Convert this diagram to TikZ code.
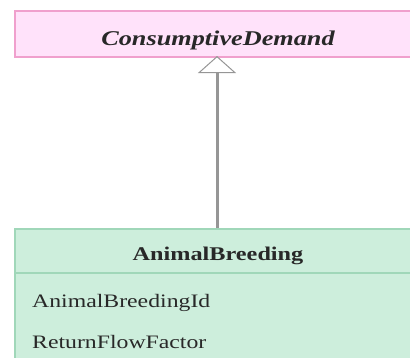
\documentclass[tikz,border=0pt]{standalone}
\usepackage{fontspec}
\setmainfont{Liberation Serif}[FakeStretch=1.25]
\usetikzlibrary{arrows.meta}
\definecolor{pinkfill}{RGB}{255,226,250}
\definecolor{pinkdraw}{RGB}{240,160,205}
\definecolor{mintfill}{RGB}{205,238,220}
\definecolor{mintdraw}{RGB}{160,215,185}
\definecolor{linkgray}{RGB}{150,150,150}
\definecolor{textgray}{RGB}{40,40,40}
\tikzset{
  classbox/.style={draw, line width=1.5pt, inner sep=0pt, anchor=north west},
  title/.style={inner sep=0pt, anchor=base, text=textgray},
  attr/.style={inner sep=0pt, anchor=base west, text=textgray, font=\fontsize{19}{22}\selectfont},
  inherit/.style={draw=linkgray, line width=3pt,
    -{Triangle[fill=white, width=38pt, length=17pt, line width=1pt]}}
}
\begin{document}
\begin{tikzpicture}[x=1pt,y=-1pt]
\useasboundingbox (0,0) rectangle (410,357);
\clip (0,0) rectangle (410,357);
\node[classbox, draw=pinkdraw, fill=pinkfill, minimum width=400pt, minimum height=46pt] (cd) at (14,10) {};
\node[title, font=\fontsize{21}{24}\selectfont\bfseries\itshape] (cdt) at (218,45) {ConsumptiveDemand};
\node[classbox, draw=mintdraw, fill=mintfill, minimum width=400pt, minimum height=140pt] (ab) at (14,228) {};
\draw[mintdraw, line width=1.5pt] (ab.west |- 0,273) -- (ab.east |- 0,273);
\node[title, font=\fontsize{19.4}{22}\selectfont\bfseries] (abt) at (218,260) {AnimalBreeding};
\node[attr] (a1) at (32,307) {AnimalBreedingId};
\node[attr] (a2) at (32,348) {ReturnFlowFactor};
\coordinate (b) at (217,228);
\coordinate (t) at (217,56);
\draw[inherit] (b) -- (t);
\end{tikzpicture}
\end{document}
